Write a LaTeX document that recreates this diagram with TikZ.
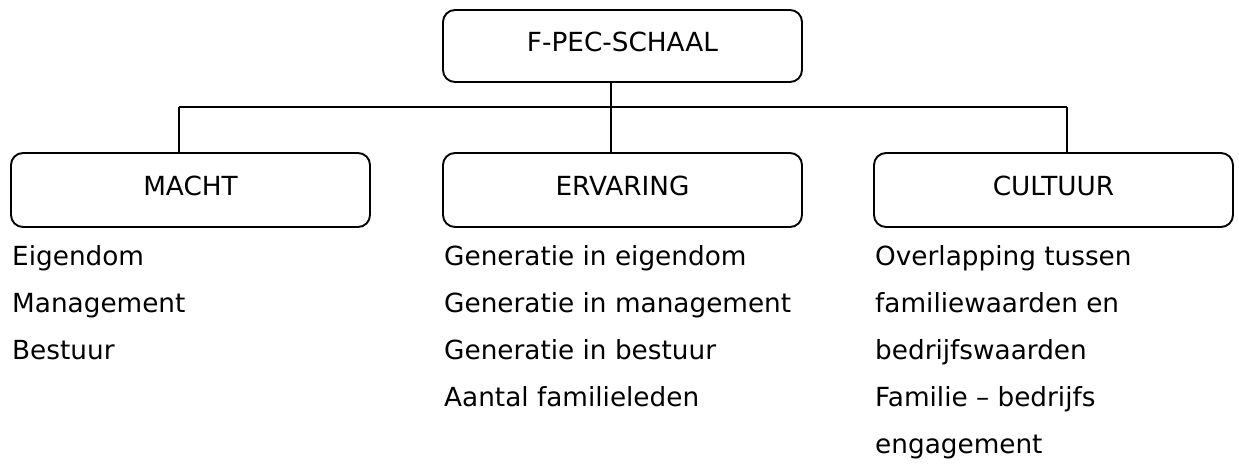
\documentclass[tikz,border=0pt]{standalone}
\usepackage{fontspec}
\setmainfont{DejaVu Sans}
\begin{document}
\begin{tikzpicture}[x=1pt,y=-1pt,
  box/.style={draw,line width=1.9pt,rounded corners=12pt,minimum width=359pt,minimum height=72pt,
    inner sep=0pt,font=\fontsize{26.3}{30}\selectfont,text height=19pt,text depth=8pt},
  item/.style={anchor=base west,inner sep=0pt,font=\fontsize{26.3}{30}\selectfont},
  conn/.style={line width=1.9pt}]
\useasboundingbox (0,0) rectangle (1239,467);
\node[box] (top) at (622.5,46) {F-PEC-SCHAAL};
\node[box,minimum height=74pt] (macht) at (190.5,190) {MACHT};
\node[box,minimum height=74pt] (erv) at (622.5,190) {ERVARING};
\node[box,minimum height=74pt] (cult) at (1053.5,190) {CULTUUR};
\coordinate (j) at (611,107);
\coordinate (jl) at (179,107);
\coordinate (jr) at (1067,107);
\draw[conn] (top.south -| j) -- (j);
\draw[conn] (jl) -- (jr);
\draw[conn] (jl) -- (macht.north -| jl);
\draw[conn] (j) -- (erv.north -| j);
\draw[conn] (jr) -- (cult.north -| jr);
\node[item] (m1) at (12,265) {Eigendom};
\node[item] (m2) at (12,312) {Management};
\node[item] (m3) at (12,359) {Bestuur};
\node[item] (e1) at (444,265) {Generatie in eigendom};
\node[item] (e2) at (444,312) {Generatie in management};
\node[item] (e3) at (444,359) {Generatie in bestuur};
\node[item] (e4) at (444,406) {Aantal familieleden};
\node[item] (c1) at (875,265) {Overlapping tussen};
\node[item] (c2) at (875,312) {familiewaarden en};
\node[item] (c3) at (875,359) {bedrijfswaarden};
\node[item] (c4) at (875,406) {Familie – bedrijfs};
\node[item] (c5) at (875,453) {engagement};
\end{tikzpicture}
\end{document}
